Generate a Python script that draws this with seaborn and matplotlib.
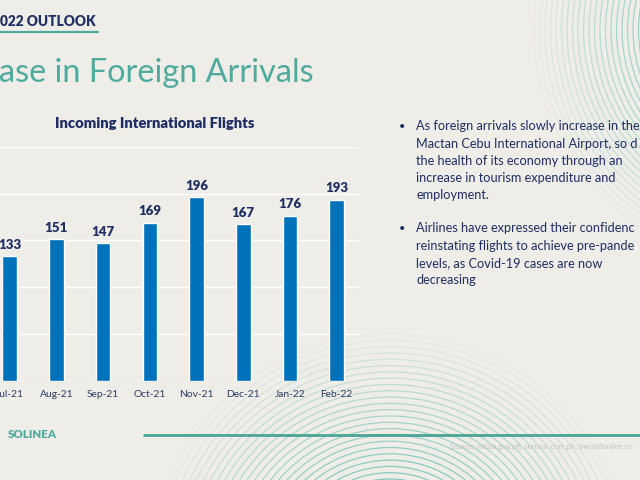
import numpy as np
import pandas as pd
import matplotlib
matplotlib.use("Agg")
import matplotlib.pyplot as plt
from matplotlib.patches import Circle
import seaborn as sns

# ---- data ----
months = ["Jul-21", "Aug-21", "Sep-21", "Oct-21", "Nov-21", "Dec-21", "Jan-22", "Feb-22"]
flights = [133, 151, 147, 169, 196, 167, 176, 193]
y_ticks = [0, 50, 100, 150, 200, 250]

header = "022 OUTLOOK"
slide_title = "ase in Foreign Arrivals"
chart_title = "Incoming International Flights"
bullet1 = ["As foreign arrivals slowly increase in the",
           "Mactan Cebu International Airport, so d",
           "the health of its economy through an",
           "increase in tourism expenditure and",
           "employment."]
bullet2 = ["Airlines have expressed their confidenc",
           "reinstating flights to achieve pre-pande",
           "levels, as Covid-19 cases are now",
           "decreasing"]
brand = "SOLINEA"
source = "Source: mciaa.gov.ph, sunstar.com.ph, bworldonline.co"

# ---- style ----
BG = "#efede8"
BAR = "#0072bb"
NAVY = "#1f2f63"
TEAL = "#4fab9e"
sns.set_theme(style="white")
plt.rcParams["font.family"] = ["Lato", "DejaVu Sans"]

W, H = 640, 480
fig = plt.figure(figsize=(6.4, 4.8), dpi=100, facecolor=BG)

def fx(x):
    return x / W

def fy(y):
    return 1 - y / H

# decorative background arcs
bg = fig.add_axes([0, 0, 1, 1], zorder=0)
bg.set_xlim(0, W)
bg.set_ylim(H, 0)
bg.axis("off")
bg.set_facecolor(BG)
for r in np.arange(115, 240, 5.5):
    a = 0.7 * max(1 - (r - 115) / 125, 0.0) ** 0.8
    bg.add_patch(Circle((770, 30), r, fill=False, lw=0.9, ec="#6cc3b5", alpha=max(a, 0.04)))
for r in np.arange(96, 245, 6.3):
    a = 0.75 * max(1 - (r - 96) / 150, 0.0) ** 0.8
    bg.add_patch(Circle((390, 575), r, fill=False, lw=0.9, ec="#5dbbab", alpha=max(a, 0.04)))

# chart axes
left_px, right_px, top_px, base_px = 0, 358.7, 146.7, 380.7
ax = fig.add_axes([fx(left_px), fy(base_px), fx(right_px - left_px), (base_px - top_px) / H], zorder=2)
ax.set_facecolor("none")
df = pd.DataFrame({"month": months, "flights": flights})
sns.barplot(data=df, x="month", y="flights", color=BAR, width=0.31, saturation=1, ax=ax, zorder=3)
ax.set_xlim(-0.205, 7.47)
ax.set_ylim(0, 250)
ax.set_yticks(y_ticks)
ax.set_yticklabels([])
ax.grid(axis="y", color="white", lw=1.0, zorder=0)
ax.set_axisbelow(True)
for s in ax.spines.values():
    s.set_visible(False)
ax.tick_params(axis="both", length=0)
ax.tick_params(axis="x", pad=7, labelsize=7.4, labelcolor="#2d3c68")
ax.set_xlabel("")
ax.set_ylabel("")
for c in ax.containers:
    ax.bar_label(c, labels=[str(v) for v in flights], padding=4, fontsize=9.6,
                 fontweight="heavy", color=NAVY)

# slide texts
fig.text(fx(155), fy(124), chart_title, ha="center", va="center", fontsize=10.6,
         fontweight="heavy", color=NAVY, zorder=3)
fig.text(fx(0), fy(22), header, ha="left", va="center", fontsize=9.8,
         fontweight="heavy", color=NAVY, zorder=3)
fig.add_artist(plt.Line2D([0, fx(98)], [fy(32), fy(32)], color=TEAL, lw=1.6, zorder=3))
fig.text(fx(-1), fy(73), slide_title, ha="left", va="center", fontsize=23.3,
         color=TEAL, zorder=3)

y = 126.5
for i, line in enumerate(bullet1):
    if i == 0:
        fig.text(fx(402), fy(y), "•", ha="center", va="center", fontsize=8, color=NAVY, zorder=3)
    fig.text(fx(416.5), fy(y), line, ha="left", va="center", fontsize=9.2, color=NAVY, zorder=3)
    y += 17.1
y = 228.5
for i, line in enumerate(bullet2):
    if i == 0:
        fig.text(fx(402), fy(y), "•", ha="center", va="center", fontsize=8, color=NAVY, zorder=3)
    fig.text(fx(416.5), fy(y), line, ha="left", va="center", fontsize=9.2, color=NAVY, zorder=3)
    y += 17.1

fig.text(fx(8), fy(435), brand, ha="left", va="center", fontsize=8.3,
         fontweight="heavy", color=TEAL, zorder=3)
fig.add_artist(plt.Line2D([fx(144), 1], [fy(435), fy(435)], color="#4aa595", lw=2.0, zorder=3))
fig.text(fx(450), fy(446), source, ha="left", va="center", fontsize=5.5,
         color="#c2c2c2", zorder=3)

fig.savefig("out.png", dpi=100, facecolor=BG)
